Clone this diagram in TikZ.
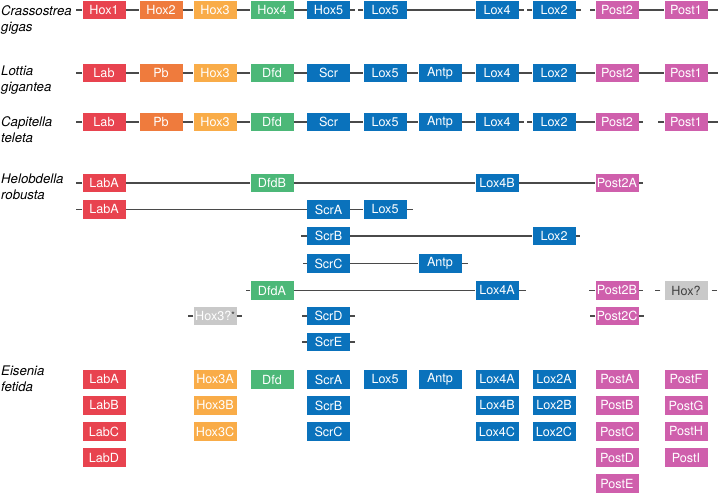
\documentclass[tikz,border=0pt]{standalone}
\usepackage{fontspec}
\setmainfont{TeX Gyre Heros}
\definecolor{labred}{HTML}{E8434F}
\definecolor{pborange}{HTML}{EF7B3D}
\definecolor{hoxorange}{HTML}{F9AC48}
\definecolor{dfdgreen}{HTML}{4CB878}
\definecolor{scrblue}{HTML}{0A72BC}
\definecolor{postpink}{HTML}{CF5FAC}
\definecolor{unkgray}{HTML}{C9C9C9}
\definecolor{linkgray}{HTML}{4A4A4A}
\tikzset{
  gene/.style={rectangle, fill=#1, minimum width=43pt, minimum height=18.5pt,
    inner sep=0pt, text=white, font=\fontsize{12.6}{13}\selectfont},
  link/.style={draw=linkgray, line width=1.3pt},
  species/.style={anchor=north west, inner sep=0pt, align=left,
    font=\fontsize{13.2}{16}\selectfont\itshape},
}

\begin{document}
\begin{tikzpicture}[x=1pt, y=-1pt]
  \useasboundingbox (0,0) rectangle (720,494);
  % species names
  \node[species] (cgName) at (1,5.3)   {Crassostrea\\gigas};
  \node[species] (lgName) at (1,65.8)  {Lottia\\gigantea};
  \node[species] (ctName) at (1,116.8) {Capitella\\teleta};
  \node[species] (hrName) at (1,173.8) {Helobdella\\robusta};
  \node[species] (efName) at (1,365.3) {Eisenia\\fetida};

  % Crassostrea gigas
  \node[gene=labred]    (cgHox1)  at (104,10)   {Hox1};
  \node[gene=pborange]  (cgHox2)  at (161,10)   {Hox2};
  \node[gene=hoxorange] (cgHox3)  at (215,10)   {Hox3};
  \node[gene=dfdgreen]  (cgHox4)  at (272,10)   {Hox4};
  \node[gene=scrblue]   (cgHox5)  at (328.5,10) {Hox5};
  \node[gene=scrblue]   (cgLox5)  at (385,10)   {Lox5};
  \node[gene=scrblue]   (cgLox4)  at (497,10)   {Lox4};
  \node[gene=scrblue]   (cgLox2)  at (554,10)   {Lox2};
  \node[gene=postpink]  (cgPost2) at (617,10)   {Post2};
  \node[gene=postpink]  (cgPost1) at (686,10)   {Post1};
  \draw[link] (cgHox1.west) -- ++(-6,0);
  \foreach \a/\b in {Hox1/Hox2,Hox2/Hox3,Hox3/Hox4,Hox4/Hox5,Lox5/Lox4,Post2/Post1}
    \draw[link] (cg\a.east) -- (cg\b.west);
  \foreach \a/\b in {Hox5/Lox5,Lox4/Lox2,Lox2/Post2}
    \draw[link] (cg\a.east) -- ++(5,0) (cg\b.west) -- ++(-5,0);
  \draw[link] (cgPost1.east) -- ++(10,0);

  % Lottia gigantea and Capitella teleta
  \foreach \g/\x/\c in {Lab/104/labred,Pb/161/pborange,Hox3/215/hoxorange,
      Dfd/272/dfdgreen,Scr/328.5/scrblue,Lox5/385/scrblue,Antp/440/scrblue,
      Lox4/497/scrblue,Lox2/554/scrblue,Post2/617/postpink,Post1/686/postpink}{
    \node[gene=\c] (lg\g) at (\x,73)  {\g};
    \node[gene=\c] (ct\g) at (\x,122) {\g};
  }
  \draw[link] (lgLab.west) -- ++(-6,0);
  \draw[link] (ctLab.west) -- ++(-6,0);
  \foreach \a/\b in {Lab/Pb,Pb/Hox3,Hox3/Dfd,Dfd/Scr,Scr/Lox5,Lox5/Antp,Antp/Lox4,
      Lox4/Lox2,Lox2/Post2,Post2/Post1}
    \draw[link] (lg\a.east) -- (lg\b.west);
  \foreach \a/\b in {Lab/Pb,Pb/Hox3,Hox3/Dfd,Dfd/Scr,Scr/Lox5,Lox5/Antp,Antp/Lox4,
      Lox2/Post2}
    \draw[link] (ct\a.east) -- (ct\b.west);
  \draw[link] (ctLox4.east) -- ++(5,0) (ctLox2.west) -- ++(-5,0);
  \draw[link] (ctPost2.east) -- ++(4,0) (ctPost1.west) -- ++(-6,0);
  \draw[link] (lgPost1.east) -- ++(10,0);
  \draw[link] (ctPost1.east) -- ++(10,0);

  % Helobdella robusta
  \node[gene=labred]   (hrLabA)  at (104,183)   {LabA};
  \node[gene=dfdgreen] (hrDfdB)  at (272,183)   {DfdB};
  \node[gene=scrblue]  (hrLox4B) at (497,183)   {Lox4B};
  \node[gene=postpink] (hrPost2A) at (617,183)  {Post2A};
  \draw[link] (hrLabA.west) -- ++(-6,0);
  \draw[link] (hrLabA.east) -- (hrDfdB.west) (hrDfdB.east) -- (hrLox4B.west)
    (hrLox4B.east) -- (hrPost2A.west);
  \draw[link] (hrPost2A.east) -- ++(4,0);

  \node[gene=labred]  (hrLabAb) at (104,209.5)   {LabA};
  \node[gene=scrblue] (hrScrA)  at (328.5,209.5) {ScrA};
  \node[gene=scrblue] (hrLox5)  at (385,209.5)   {Lox5};
  \draw[link] (hrLabAb.west) -- ++(-6,0);
  \draw[link] (hrLabAb.east) -- (hrScrA.west) (hrScrA.east) -- (hrLox5.west);
  \draw[link] (hrLox5.east) -- ++(6,0);

  \node[gene=scrblue] (hrScrB) at (328.5,236) {ScrB};
  \node[gene=scrblue] (hrLox2) at (554,236)   {Lox2};
  \draw[link] (hrScrB.west) -- ++(-6,0);
  \draw[link] (hrScrB.east) -- (hrLox2.west);
  \draw[link] (hrLox2.east) -- ++(4,0);

  \node[gene=scrblue] (hrScrC) at (328.5,263.5) {ScrC};
  \node[gene=scrblue] (hrAntp) at (440,263.5)   {Antp};
  \draw[link] (hrScrC.west) -- ++(-4,0);
  \draw[link] (hrScrC.east) -- (hrAntp.west);
  \draw[link] (hrAntp.east) -- ++(6,0);

  \node[gene=dfdgreen] (hrDfdA)  at (272,290.5) {DfdA};
  \node[gene=scrblue]  (hrLox4A) at (497,290.5) {Lox4A};
  \node[gene=postpink] (hrPost2B) at (617,290.5) {Post2B};
  \node[gene=unkgray, text=black!75] (hrHoxU) at (686,290.5) {Hox?};
  \draw[link] (hrDfdA.west) -- ++(-4,0);
  \draw[link] (hrDfdA.east) -- (hrLox4A.west);
  \draw[link] (hrLox4A.east) -- ++(7,0);
  \draw[link] (hrPost2B.west) -- ++(-6,0) (hrPost2B.east) -- ++(4,0);
  \draw[link] ([xshift=-4pt]hrHoxU.west) -- ++(-5,0)
    ([xshift=4pt]hrHoxU.east) -- ++(5,0);

  \node[gene=unkgray] (hrHox3) at (215,316)
    {Hox3?\raisebox{2pt}{\color{black!80}\fontsize{9}{9}\selectfont*}};
  \node[gene=scrblue]  (hrScrD)   at (328.5,316) {ScrD};
  \node[gene=postpink] (hrPost2C) at (617,316)   {Post2C};
  \foreach \n in {hrHox3,hrScrD,hrPost2C}
    \draw[link] (\n.west) -- ++(-5,0) (\n.east) -- ++(5,0);

  \node[gene=scrblue] (hrScrE) at (328.5,342) {ScrE};
  \draw[link] (hrScrE.west) -- ++(-5,0) (hrScrE.east) -- ++(5,0);

  % Eisenia fetida
  \foreach \g [count=\i] in {LabA,LabB,LabC,LabD}
    \node[gene=labred] (ef\g) at (104,{379.5+26*(\i-1)}) {\g};
  \foreach \g [count=\i] in {Hox3A,Hox3B,Hox3C}
    \node[gene=hoxorange] (ef\g) at (215,{379.5+26*(\i-1)}) {\g};
  \node[gene=dfdgreen] (efDfd)  at (272,379.5) {Dfd};
  \foreach \g [count=\i] in {ScrA,ScrB,ScrC}
    \node[gene=scrblue] (ef\g) at (328.5,{379.5+26*(\i-1)}) {\g};
  \node[gene=scrblue]  (efLox5) at (385,379.5) {Lox5};
  \node[gene=scrblue]  (efAntp) at (440,379.5) {Antp};
  \foreach \g [count=\i] in {Lox4A,Lox4B,Lox4C}
    \node[gene=scrblue] (ef\g) at (497,{379.5+26*(\i-1)}) {\g};
  \foreach \g [count=\i] in {Lox2A,Lox2B,Lox2C}
    \node[gene=scrblue] (ef\g) at (554,{379.5+26*(\i-1)}) {\g};
  \foreach \g [count=\i] in {PostA,PostB,PostC,PostD,PostE}
    \node[gene=postpink] (ef\g) at (617,{379.5+26*(\i-1)}) {\g};
  \foreach \g [count=\i] in {PostF,PostG,PostH,PostI}
    \node[gene=postpink] (ef\g) at (686,{379.5+26*(\i-1)}) {\g};
\end{tikzpicture}
\end{document}
